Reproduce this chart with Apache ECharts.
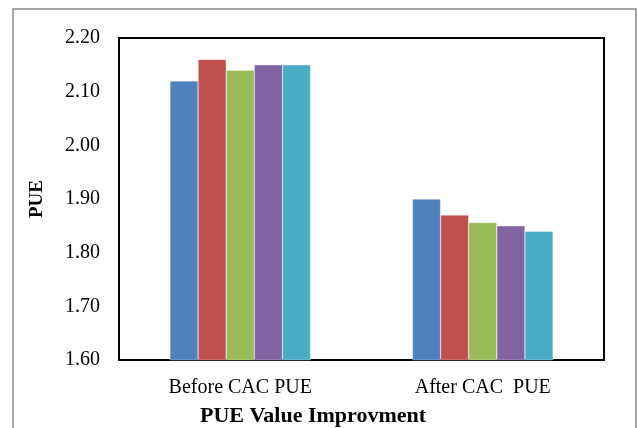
<!DOCTYPE html>
<html><head><meta charset="utf-8">
<script src="https://cdn.jsdelivr.net/npm/echarts@6/dist/echarts.min.js"></script>
<style>html,body{margin:0;padding:0;background:#fff}#c{width:637px;height:428px}</style>
</head><body><div id="c"></div>
<script>
const categories = ['Before CAC PUE', 'After CAC  PUE'];
const series1 = [2.12, 1.90];
const series2 = [2.16, 1.87];
const series3 = [2.14, 1.856];
const series4 = [2.15, 1.85];
const series5 = [2.15, 1.84];
const yTicks = { min: 1.6, max: 2.2, interval: 0.1 };
const colors = ['#4F81BD', '#C0504D', '#9BBB59', '#8064A2', '#4BACC6'];
const allSeries = [series1, series2, series3, series4, series5];

const chart = echarts.init(document.getElementById('c'));
const font = 'Liberation Serif';
chart.setOption({
  animation: false,
  grid: { left: 119, right: 33, top: 38, bottom: 68, show: true, borderColor: '#000', borderWidth: 2, containLabel: false },
  xAxis: {
    type: 'category', data: categories,
    axisLine: { lineStyle: { color: '#000', width: 2 } },
    axisTick: { show: false },
    axisLabel: { fontFamily: font, fontSize: 20, color: '#000', margin: 18 }
  },
  yAxis: {
    type: 'value', min: yTicks.min, max: yTicks.max, interval: yTicks.interval,
    name: 'PUE', nameLocation: 'middle', nameGap: 72, nameRotate: 90,
    nameTextStyle: { fontFamily: font, fontSize: 19, fontWeight: 'bold', color: '#000' },
    axisLine: { show: true, lineStyle: { color: '#000', width: 2 } },
    axisTick: { show: false },
    splitLine: { show: false },
    axisLabel: { fontFamily: font, fontSize: 20, color: '#000', margin: 19, formatter: v => v.toFixed(2) }
  },
  graphic: [
    { type: 'rect', shape: { x: 13, y: 9, width: 623, height: 440 }, style: { fill: 'none', stroke: '#8a8a8a', lineWidth: 1.5 }, silent: true },
    { type: 'text', left: 200, top: 405, style: { text: 'PUE Value Improvment', font: 'bold 22px "Liberation Serif"', fill: '#000' } }
  ],
  series: allSeries.map((d, i) => ({
    type: 'bar', data: d, barGap: '0%', barCategoryGap: '42%',
    itemStyle: { color: colors[i], borderColor: 'rgba(255,255,255,0.6)', borderWidth: 0.5 }
  }))
});
</script></body></html>
